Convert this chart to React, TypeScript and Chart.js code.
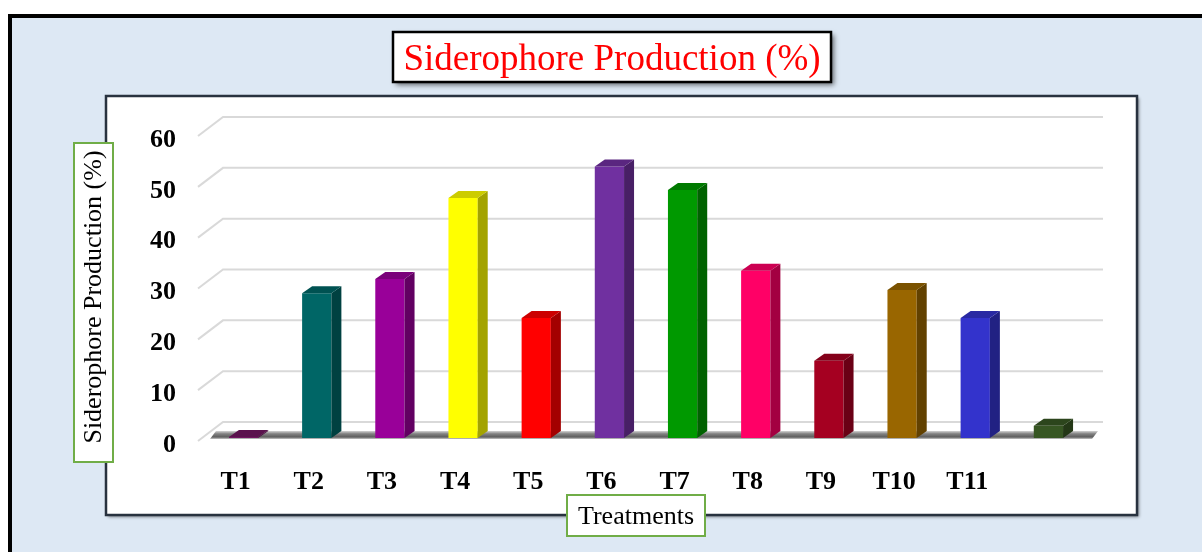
import React, { useEffect, useRef } from 'react';
import { Chart, registerables } from 'chart.js';

Chart.register(...registerables);

// ---------------- data ----------------
const categories = ['T1', 'T2', 'T3', 'T4', 'T5', 'T6', 'T7', 'T8', 'T9', 'T10', 'T11', ''];
const siderophoreValues = [0.2, 28.5, 31.3, 47.2, 23.6, 53.4, 48.8, 32.9, 15.2, 29.1, 23.6, 2.4];
const barColors = [
  '#701560', '#006666', '#990099', '#FFFF00', '#FF0000', '#7030A0',
  '#009900', '#FF0066', '#A50021', '#996600', '#3333CC', '#375623',
];
const yTickValues = [0, 10, 20, 30, 40, 50, 60];
const chartTitle = 'Siderophore Production (%)';
const yAxisTitle = 'Siderophore Production (%)';
const xAxisTitle = 'Treatments';

// ---------------- styling constants ----------------
const W = 1202;
const H = 552;
const SERIF = '"Liberation Serif", "Times New Roman", serif';
const DEPTH_DX = 10;
const DEPTH_DY = 7;
const GRID_DX = 25;
const GRID_DY = 19;

function shade(hex: string, f: number) {
  const n = parseInt(hex.slice(1), 16);
  const r = Math.round(((n >> 16) & 255) * f);
  const g = Math.round(((n >> 8) & 255) * f);
  const b = Math.round((n & 255) * f);
  return `rgb(${r},${g},${b})`;
}

const framePlugin = {
  id: 'frame',
  beforeDraw(chart: any) {
    const ctx = chart.ctx as CanvasRenderingContext2D;
    ctx.save();
    ctx.fillStyle = '#ffffff';
    ctx.fillRect(0, 0, W, H);
    // outer panel
    ctx.fillStyle = '#000000';
    ctx.fillRect(8, 14, W, H);
    ctx.fillStyle = '#dde8f4';
    ctx.fillRect(12, 18, W, H);

    // inner white plot panel
    ctx.save();
    ctx.shadowColor = 'rgba(0,0,0,0.45)';
    ctx.shadowBlur = 3;
    ctx.shadowOffsetX = 2;
    ctx.shadowOffsetY = 2;
    ctx.fillStyle = '#ffffff';
    ctx.fillRect(106, 96, 1031, 419);
    ctx.restore();
    ctx.strokeStyle = '#28323f';
    ctx.lineWidth = 2.5;
    ctx.strokeRect(106, 96, 1031, 419);

    // title box
    ctx.save();
    ctx.shadowColor = 'rgba(0,0,0,0.55)';
    ctx.shadowBlur = 5;
    ctx.shadowOffsetX = 3;
    ctx.shadowOffsetY = 3;
    ctx.fillStyle = '#ffffff';
    ctx.fillRect(393, 32, 438, 50);
    ctx.restore();
    ctx.strokeStyle = '#000000';
    ctx.lineWidth = 2.5;
    ctx.strokeRect(393, 32, 438, 50);
    ctx.fillStyle = '#FF0000';
    ctx.font = `37px ${SERIF}`;
    ctx.textAlign = 'center';
    ctx.textBaseline = 'alphabetic';
    ctx.fillText(chartTitle, 612, 70);

    // y axis title box
    ctx.fillStyle = '#ffffff';
    ctx.fillRect(74, 143, 39, 319);
    ctx.strokeStyle = '#70AD47';
    ctx.lineWidth = 2;
    ctx.strokeRect(74, 143, 39, 319);
    ctx.save();
    ctx.translate(101, 297);
    ctx.rotate(-Math.PI / 2);
    ctx.fillStyle = '#000000';
    ctx.font = `26px ${SERIF}`;
    ctx.textAlign = 'center';
    ctx.textBaseline = 'alphabetic';
    ctx.fillText(yAxisTitle, 0, 0);
    ctx.restore();

    // x axis title box
    ctx.fillStyle = '#ffffff';
    ctx.fillRect(567, 495, 138, 41);
    ctx.strokeStyle = '#70AD47';
    ctx.lineWidth = 2;
    ctx.strokeRect(567, 495, 138, 41);
    ctx.fillStyle = '#000000';
    ctx.font = `26px ${SERIF}`;
    ctx.textAlign = 'center';
    ctx.textBaseline = 'alphabetic';
    ctx.fillText(xAxisTitle, 636, 524);
    ctx.restore();
  },
};

const gridFloorPlugin = {
  id: 'gridFloor',
  beforeDatasetsDraw(chart: any) {
    const ctx = chart.ctx as CanvasRenderingContext2D;
    const yScale = chart.scales.y;
    const area = chart.chartArea;
    const xl = area.left - 9;
    const xr = area.right + 18;
    ctx.save();
    ctx.strokeStyle = '#d9d9d9';
    ctx.lineWidth = 2;
    yTickValues.forEach((v) => {
      const py = yScale.getPixelForValue(v);
      ctx.beginPath();
      ctx.moveTo(xl, py + 3);
      ctx.lineTo(xl + GRID_DX, py + 3 - GRID_DY);
      ctx.lineTo(xr, py + 3 - GRID_DY);
      ctx.stroke();
    });
    // floor shadow band
    const base = yScale.getPixelForValue(0);
    const grad = ctx.createLinearGradient(0, base - 7, 0, base + 1);
    grad.addColorStop(0, '#d4d4d4');
    grad.addColorStop(0.35, '#828282');
    grad.addColorStop(0.75, '#5e5e5e');
    grad.addColorStop(1, '#c8c8c8');
    ctx.fillStyle = grad;
    ctx.beginPath();
    ctx.moveTo(area.left + 3, base + 1);
    ctx.lineTo(area.left + 9, base - 7);
    ctx.lineTo(area.right + 13, base - 7);
    ctx.lineTo(area.right + 7, base + 1);
    ctx.closePath();
    ctx.fill();
    ctx.restore();
  },
};

const bar3dPlugin = {
  id: 'bar3d',
  afterDatasetsDraw(chart: any) {
    const ctx = chart.ctx as CanvasRenderingContext2D;
    const meta = chart.getDatasetMeta(0);
    ctx.save();
    meta.data.forEach((el: any, i: number) => {
      const { x, y, base, width } = el.getProps(['x', 'y', 'base', 'width'], true);
      const l = x - width / 2;
      const r = x + width / 2;
      const c = barColors[i];
      // side face
      ctx.fillStyle = shade(c, 0.64);
      ctx.beginPath();
      ctx.moveTo(r, y);
      ctx.lineTo(r + DEPTH_DX, y - DEPTH_DY);
      ctx.lineTo(r + DEPTH_DX, base - DEPTH_DY);
      ctx.lineTo(r, base);
      ctx.closePath();
      ctx.fill();
      // top face
      ctx.fillStyle = shade(c, 0.8);
      ctx.beginPath();
      ctx.moveTo(l, y);
      ctx.lineTo(l + DEPTH_DX, y - DEPTH_DY);
      ctx.lineTo(r + DEPTH_DX, y - DEPTH_DY);
      ctx.lineTo(r, y);
      ctx.closePath();
      ctx.fill();
    });
    ctx.restore();
  },
};

export default function App() {
  const canvasRef = useRef<HTMLCanvasElement | null>(null);

  useEffect(() => {
    const canvas = canvasRef.current;
    if (!canvas) return;
    const chart = new Chart(canvas, {
      type: 'bar',
      data: {
        labels: categories,
        datasets: [
          {
            data: siderophoreValues,
            backgroundColor: barColors,
            borderWidth: 0,
            barPercentage: 0.4,
            categoryPercentage: 1,
            clip: false as any,
          },
        ],
      },
      options: {
        responsive: false,
        animation: false,
        devicePixelRatio: 1,
        events: [],
        layout: { padding: { left: 132, right: 117, top: 133, bottom: 54 } },
        plugins: {
          legend: { display: false },
          title: { display: false },
          tooltip: { enabled: false },
        },
        scales: {
          x: {
            type: 'category',
            offset: true,
            grid: { display: false, drawTicks: false },
            border: { display: false },
            ticks: {
              color: '#000000',
              font: { family: SERIF, size: 26, weight: 'bold' },
              padding: 29,
              labelOffset: -8,
              maxRotation: 0,
              autoSkip: false,
            },
            afterFit: (s: any) => {
              s.height = 60;
            },
          },
          y: {
            type: 'linear',
            min: 0,
            max: 60,
            grid: { display: false, drawTicks: false },
            border: { display: false },
            ticks: {
              stepSize: 10,
              color: '#000000',
              font: { family: SERIF, size: 26, weight: 'bold' },
              padding: 31,
              labelOffset: 7,
            },
            afterFit: (s: any) => {
              s.width = 75;
            },
          },
        },
      },
      plugins: [framePlugin, gridFloorPlugin, bar3dPlugin],
    });
    return () => chart.destroy();
  }, []);

  return (
    <div style={{ position: 'absolute', left: 0, top: 0, width: W, height: H, overflow: 'hidden' }}>
      <canvas ref={canvasRef} width={W} height={H} style={{ display: 'block', width: W, height: H }} />
    </div>
  );
}
